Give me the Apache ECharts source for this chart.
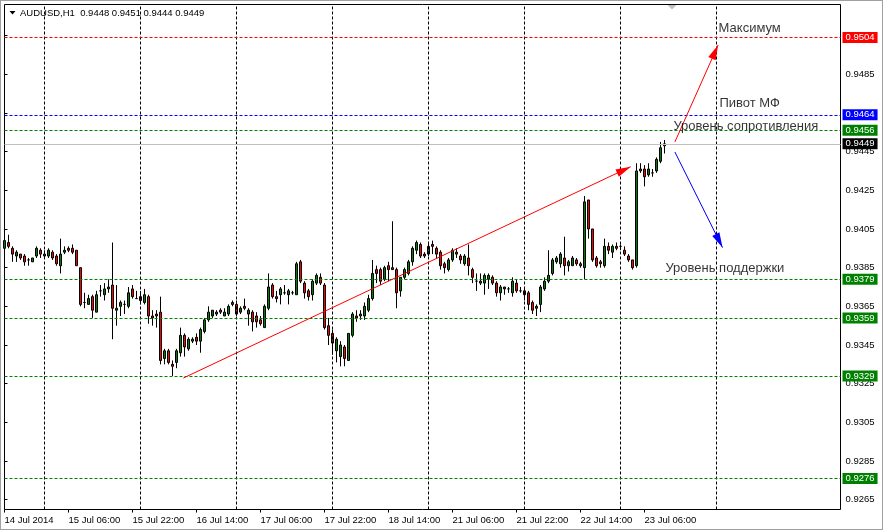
<!DOCTYPE html>
<html><head><meta charset="utf-8">
<script src="https://cdn.jsdelivr.net/npm/echarts@6/dist/echarts.min.js"></script>
<style>html,body{margin:0;padding:0;background:#fff;}#c{width:883px;height:530px;}#f{position:absolute;left:0;top:0;width:883px;height:530px;box-sizing:border-box;border:1px solid #a0a0a0;pointer-events:none;}</style>
</head><body><div id="c"></div><div id="f"></div>
<script>
// ---- data (AUDUSD H1, from 14 Jul 2014 14:00) ----
const opens = [
.9395,.9398,.9395,.9391,.9392,.9391,.9389,.9388,.9391,.9394,
.9391,.9391,.9393,.9391,.9386,.9393,.9395,.9395,.9394,.9385,
.9367,.9366,.9370,.9362,.9373,.9371,.9374,.9376,.9363,.9365,
.9366,.9365,.9374,.9369,.9370,.9367,.9370,.9360,.9361,.9362,
.9338,.9342,.9335,.9336,.9341,.9350,.9343,.9347,.9349,.9347,
.9352,.9358,.9360,.9361,.9363,.9360,.9361,.9366,.9366,.9362,
.9365,.9361,.9362,.9360,.9358,.9354,.9364,.9376,.9370,.9371,
.9372,.9371,.9372,.9371,.9388,.9377,.9373,.9371,.9377,.9380,
.9376,.9355,.9351,.9342,.9339,.9344,.9337,.9350,.9360,.9360,
.9360,.9363,.9369,.9384,.9384,.9379,.9386,.9385,.9384,.9373,
.9380,.9382,.9388,.9394,.9397,.9392,.9392,.9397,.9395,.9393,
.9387,.9384,.9389,.9393,.9391,.9387,.9390,.9384,.9378,.9377,
.9377,.9379,.9380,.9377,.9372,.9374,.9374,.9372,.9377,.9373,
.9373,.9372,.9367,.9364,.9366,.9374,.9378,.9382,.9388,.9387,
.9390,.9386,.9386,.9389,.9387,.9385,.9420,.9405,.9390,.9388,
.9386,.9396,.9393,.9396,.9396,.9394,.9391,.9389,.9386,.9436,
.9436,.9433,.9434,.9435,.9440,.9448];
const highs = [
.9402,.9402,.9396,.9394,.9392,.9392,.9390,.9390,.9396,.9395,
.9394,.9395,.9394,.9392,.9400,.9396,.9396,.9397,.9394,.9385,
.9372,.9371,.9371,.9373,.9376,.9377,.9379,.9398,.9376,.9368,
.9368,.9375,.9376,.9373,.9373,.9374,.9371,.9363,.9363,.9370,
.9343,.9343,.9337,.9343,.9354,.9351,.9349,.9349,.9351,.9354,
.9359,.9365,.9363,.9363,.9364,.9364,.9366,.9368,.9368,.9365,
.9369,.9364,.9363,.9362,.9360,.9366,.9382,.9377,.9373,.9375,
.9376,.9374,.9373,.9388,.9389,.9378,.9374,.9379,.9382,.9382,
.9377,.9359,.9353,.9349,.9347,.9345,.9351,.9362,.9363,.9363,
.9367,.9371,.9389,.9386,.9385,.9386,.9388,.9409,.9385,.9380,
.9385,.9389,.9396,.9399,.9398,.9393,.9398,.9399,.9396,.9394,
.9388,.9390,.9395,.9395,.9392,.9392,.9397,.9385,.9382,.9382,
.9382,.9382,.9381,.9378,.9376,.9375,.9375,.9380,.9379,.9375,
.9374,.9373,.9368,.9366,.9376,.9380,.9394,.9390,.9391,.9393,
.9401,.9389,.9391,.9390,.9388,.9422,.9420,.9405,.9391,.9389,
.9400,.9398,.9397,.9398,.9397,.9396,.9392,.9389,.9439,.9439,
.9438,.9439,.9436,.9442,.9450,.9451];
const lows = [
.9393,.9395,.9388,.9388,.9389,.9386,.9386,.9388,.9390,.9390,
.9390,.9390,.9389,.9386,.9382,.9392,.9393,.9392,.9386,.9365,
.9364,.9366,.9359,.9362,.9370,.9368,.9372,.9348,.9355,.9360,
.9361,.9364,.9369,.9369,.9366,.9366,.9356,.9355,.9354,.9335,
.9335,.9335,.9329,.9333,.9339,.9339,.9342,.9346,.9345,.9341,
.9351,.9357,.9359,.9360,.9361,.9360,.9360,.9365,.9360,.9361,
.9363,.9355,.9352,.9354,.9355,.9354,.9363,.9369,.9367,.9366,
.9371,.9366,.9371,.9371,.9377,.9369,.9368,.9368,.9376,.9376,
.9353,.9345,.9340,.9336,.9334,.9334,.9337,.9349,.9357,.9358,
.9358,.9362,.9368,.9377,.9376,.9378,.9378,.9384,.9364,.9370,
.9379,.9381,.9386,.9392,.9390,.9390,.9391,.9392,.9390,.9384,
.9382,.9383,.9388,.9390,.9387,.9386,.9381,.9377,.9373,.9376,
.9371,.9374,.9376,.9370,.9368,.9371,.9372,.9370,.9372,.9372,
.9368,.9363,.9361,.9360,.9362,.9373,.9377,.9381,.9387,.9385,
.9381,.9383,.9386,.9386,.9385,.9379,.9400,.9388,.9385,.9385,
.9385,.9392,.9390,.9394,.9394,.9391,.9388,.9384,.9385,.9434,
.9427,.9432,.9432,.9434,.9439,.9444];
const closes = [
.9399,.9396,.9392,.9393,.9390,.9388,.9389,.9390,.9395,.9392,
.9392,.9394,.9390,.9387,.9392,.9394,.9394,.9393,.9386,.9366,
.9367,.9369,.9363,.9371,.9373,.9374,.9375,.9364,.9364,.9367,
.9366,.9372,.9370,.9369,.9368,.9371,.9360,.9359,.9360,.9337,
.9342,.9336,.9334,.9342,.9350,.9344,.9348,.9348,.9347,.9353,
.9358,.9362,.9363,.9362,.9362,.9362,.9365,.9367,.9361,.9364,
.9364,.9363,.9357,.9357,.9356,.9365,.9375,.9370,.9369,.9374,
.9372,.9373,.9372,.9387,.9378,.9372,.9370,.9378,.9381,.9377,
.9354,.9350,.9346,.9348,.9345,.9338,.9351,.9361,.9359,.9361,
.9365,.9369,.9382,.9382,.9378,.9385,.9384,.9384,.9372,.9380,
.9384,.9388,.9395,.9398,.9391,.9391,.9396,.9396,.9392,.9386,
.9385,.9389,.9394,.9392,.9389,.9391,.9386,.9380,.9378,.9378,
.9381,.9381,.9377,.9372,.9375,.9375,.9374,.9378,.9373,.9373,
.9371,.9366,.9363,.9365,.9375,.9378,.9381,.9389,.9390,.9392,
.9386,.9388,.9390,.9387,.9386,.9419,.9405,.9389,.9386,.9387,
.9396,.9394,.9396,.9395,.9396,.9392,.9389,.9385,.9435,.9435,
.9432,.9436,.9434,.9441,.9447,.9449];
const totalSlots = 210; // bars + empty chart shift on the right
const xTickIndex  = [0, 16, 32, 48, 64, 80, 96, 112, 128, 144, 160];
const xTickLabels = ['14 Jul 2014','15 Jul 06:00','15 Jul 22:00','16 Jul 14:00','17 Jul 06:00','17 Jul 22:00','18 Jul 14:00','21 Jul 06:00','21 Jul 22:00','22 Jul 14:00','23 Jul 06:00'];
const yTicks = [0.9265,0.9285,0.9305,0.9325,0.9345,0.9365,0.9385,0.9405,0.9425,0.9445,0.9465,0.9485,0.9505];
const dayLines = [10, 34, 58, 82, 106, 130, 154, 178];
const levelValues = [0.9504, 0.9464, 0.9456, 0.9449, 0.9379, 0.9359, 0.9329, 0.9276];
const levelKinds  = ['max', 'pivot', 'res', 'bid', 'sup', 'sup', 'sup', 'sup'];
const arrowRedLong  = [44.7, 0.93279, 156.55, 0.94372];
const arrowRedShort = [167.6, 0.94500, 178.4, 0.95001];
const arrowBlue     = [167.6, 0.94448, 179.5, 0.93954];
const noteTexts = ['Максимум', 'Пивот МФ', 'Уровень сопротивления', 'Уровень поддержки'];
const noteX = [178.4, 178.6, 167.1, 165.1];
const noteY = [0.95094, 0.94707, 0.94588, 0.93853];
const titleText = 'AUDUSD,H1  0.9448 0.9451 0.9444 0.9449';

// ---- styles ----
const FONT = 'Liberation Sans, Arial, sans-serif';
const kindStyle = {
  max:   {color: '#ff0000', type: [3,2], box: '#ff0000'},
  pivot: {color: '#0000ff', type: [3,2], box: '#0000ff'},
  res:   {color: '#008000', type: [3,2], box: '#008000'},
  bid:   {color: '#c0c0c0', type: 'solid', box: '#000000'},
  sup:   {color: '#008000', type: [3,2], box: '#008000'}
};
const yMax = 0.9521063, yMin = 0.9259946;

const categories = Array.from({length: totalSlots}, (_, i) => String(i));
const candleData = opens.map((o, i) => [o, closes[i], lows[i], highs[i]]);

const levelLines = levelValues.map((v, i) => {
  const s = kindStyle[levelKinds[i]];
  return {
    yAxis: v,
    lineStyle: {color: s.color, type: s.type, width: 1},
    label: {show: true, position: 'end', distance: 2, formatter: v.toFixed(4),
      backgroundColor: s.box, color: '#fff', fontSize: 9.5, fontFamily: FONT,
      lineHeight: 10, padding: [1, 3, 0, 3]}
  };
});
const dayLineData = dayLines.map(d => ({xAxis: d}));
const mkArrow = (a, color) => ([
  {coord: [a[0], a[1]], symbol: 'none', lineStyle: {color: color, width: 1, type: 'solid'}},
  {coord: [a[2], a[3]], symbol: 'triangle', symbolSize: [8, 15], symbolOffset: [0, 7.5], itemStyle: {color: color}}
]);

const chart = echarts.init(document.getElementById('c'), null, {renderer: 'canvas'});
chart.setOption({
  animation: false,
  backgroundColor: '#ffffff',
  grid: {left: 4.5, top: 4.5, right: 42.5, bottom: 20.5, show: true, borderColor: '#000', borderWidth: 1, backgroundColor: 'transparent'},
  xAxis: [{
    type: 'category', data: categories, boundaryGap: false,
    axisLine: {show: false},
    axisTick: {show: true, length: 3, interval: (i) => xTickIndex.includes(i), lineStyle: {color: '#000'}},
    axisLabel: {interval: (i) => xTickIndex.includes(i), formatter: (v, i) => xTickLabels[xTickIndex.indexOf(i)] || '',
      align: 'left', margin: 6, fontSize: 9.5, fontFamily: FONT, color: '#000'},
    splitLine: {show: false}
  }, {
    type: 'value', min: 0, max: totalSlots - 1, show: false
  }],
  yAxis: [{
    type: 'value', position: 'right', min: yMin, max: yMax, scale: true,
    axisLine: {show: false},
    axisTick: {show: true, length: 3, customValues: yTicks, lineStyle: {color: '#000'}},
    axisLabel: {customValues: yTicks, formatter: v => v.toFixed(4), margin: 5, fontSize: 9.5, fontFamily: FONT, color: '#000'},
    splitLine: {show: false}
  }],
  series: [
    {
      type: 'line', xAxisIndex: 1, yAxisIndex: 0, data: [], z: 1, silent: true,
      markLine: {silent: true, symbol: 'none', precision: 4, animation: false,
        lineStyle: {color: '#000', type: [3, 2], width: 1}, label: {show: false},
        data: dayLineData}
    },
    {
      type: 'line', xAxisIndex: 1, yAxisIndex: 0, data: [], z: 1, silent: true,
      markLine: {silent: true, symbol: 'none', precision: 4, animation: false, data: levelLines}
    },
    {
      type: 'candlestick', xAxisIndex: 0, yAxisIndex: 0, data: candleData, z: 3,
      barWidth: 2, clip: true,
      itemStyle: {color: '#008000', color0: '#ff0000', borderColor: '#000', borderColor0: '#000', borderWidth: 1}
    },
    {
      type: 'line', xAxisIndex: 1, yAxisIndex: 0, data: [], z: 4, silent: true,
      markLine: {silent: true, animation: false, label: {show: false},
        data: [mkArrow(arrowRedLong, '#ff0000'), mkArrow(arrowRedShort, '#ff0000'), mkArrow(arrowBlue, '#0000ff')]}
    },
    {
      type: 'scatter', xAxisIndex: 1, yAxisIndex: 0, z: 5, silent: true,
      symbolSize: 1, itemStyle: {color: 'rgba(0,0,0,0)'},
      data: noteTexts.map((t, i) => [noteX[i], noteY[i], t]),
      label: {show: true, position: 'right', distance: 0, offset: [0, 1.5], formatter: p => p.data[2],
        color: '#000', fontSize: 13, fontFamily: FONT}
    }
  ],
  graphic: [
    {type: 'polygon', shape: {points: [[9.5, 11], [15.5, 11], [12.5, 14.5]]}, style: {fill: '#000'}},
    {type: 'text', left: 20, top: 8, style: {text: titleText, fontSize: 9.5, fontFamily: FONT, fill: '#000'}},
    {type: 'polygon', shape: {points: [[667.5, 5], [676.5, 5], [672, 9.5]]}, style: {fill: '#c0c0c0'}}
  ]
});
</script></body></html>
